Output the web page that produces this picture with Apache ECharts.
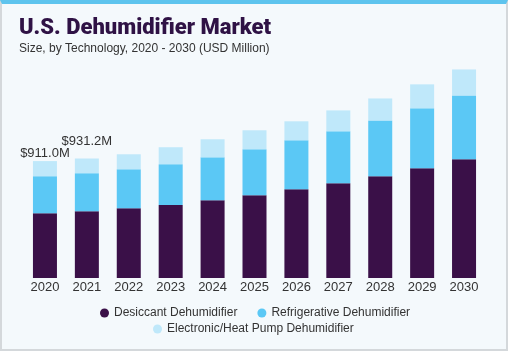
<!DOCTYPE html>
<html>
<head>
<meta charset="utf-8">
<script src="https://cdn.jsdelivr.net/npm/echarts@6/dist/echarts.min.js"></script>
<style>
  html, body { margin: 0; padding: 0; }
  #frame {
    position: absolute; left: 0; top: 0; width: 508px; height: 351px;
    box-sizing: border-box; background: #f4f9fc;
    border-top: 4px solid #5ec4ee; border-left: 2px solid #d4d8db;
    border-right: 2px solid #d4d8db; border-bottom: 2px solid #d4d8db;
  }
  #main { position: absolute; left: 0; top: 0; width: 508px; height: 351px; }
</style>
</head>
<body>
<div id="frame"></div>
<div id="main"></div>
<script>
// values in USD million
var years = ["2020", "2021", "2022", "2023", "2024", "2025", "2026", "2027", "2028", "2029", "2030"];
var desiccant = [505.5, 521.0, 544, 568, 606, 645, 692, 739, 793, 855, 925];
var refrigerative = [288.0, 296.0, 303, 319, 334, 358, 381, 404, 435, 467, 498];
var electronic = [117.5, 114.2, 117, 132, 141, 148, 148, 163, 171, 187, 202];
// which bars carry a total label, and how far above the bar it sits
var labelled = [0, 1];
var labelGap = [1, 11];

var mychart = echarts.init(document.getElementById('main'));

function total(i) {
	return desiccant[i] + refrigerative[i] + electronic[i];
}

var topData = electronic.map(function(v, i) {
	var k = labelled.indexOf(i);
	if (k < 0) return v;
	return {
		value: v,
		label: {
			show: true,
			position: 'top',
			distance: labelGap[k],
			color: '#333',
			fontSize: 13,
			fontFamily: 'Liberation Sans',
			formatter: function() {
				return '$' + total(i).toFixed(1) + 'M';
			}
		}
	};
});

var legendStyle = {
	icon: 'circle',
	itemWidth: 9,
	itemHeight: 9,
	itemGap: 20,
	textStyle: { color: '#333', fontSize: 12, fontFamily: 'Liberation Sans' }
};

mychart.setOption({
	animation: false,
	title: [{
		text: 'U.S. Dehumidifier Market',
		left: 19,
		top: 17,
		padding: 0,
		textStyle: { color: '#2f1245', fontSize: 22, fontWeight: 900, fontFamily: 'Roboto' }
	}, {
		text: 'Size, by Technology, 2020 - 2030 (USD Million)',
		left: 19,
		top: 43,
		padding: 0,
		textStyle: { color: '#333', fontSize: 12, fontWeight: 'normal', fontFamily: 'Liberation Sans' }
	}],
	legend: [Object.assign({
		left: 95,
		top: 302,
		data: ['Desiccant Dehumidifier', 'Refrigerative Dehumidifier']
	}, legendStyle), Object.assign({
		left: 148,
		top: 318,
		data: ['Electronic/Heat Pump Dehumidifier']
	}, legendStyle)],
	grid: {
		left: 24,
		right: 23,
		top: 47,
		bottom: 73
	},
	xAxis: {
		type: 'category',
		data: years,
		axisLine: { show: false },
		axisTick: { show: false },
		axisLabel: { color: '#333', fontSize: 13, margin: 3, fontFamily: 'Liberation Sans' }
	},
	yAxis: {
		type: 'value',
		min: 0,
		max: 1800,
		show: false,
		splitLine: { show: false }
	},
	series: [{
		name: 'Desiccant Dehumidifier',
		type: 'bar',
		stack: 'total',
		barWidth: 24,
		data: desiccant,
		itemStyle: { color: '#3a1048' }
	}, {
		name: 'Refrigerative Dehumidifier',
		type: 'bar',
		stack: 'total',
		barWidth: 24,
		data: refrigerative,
		itemStyle: { color: '#5bc8f5' }
	}, {
		name: 'Electronic/Heat Pump Dehumidifier',
		type: 'bar',
		stack: 'total',
		barWidth: 24,
		data: topData,
		itemStyle: { color: '#bfe8fa' }
	}]
});
</script>
</body>
</html>
